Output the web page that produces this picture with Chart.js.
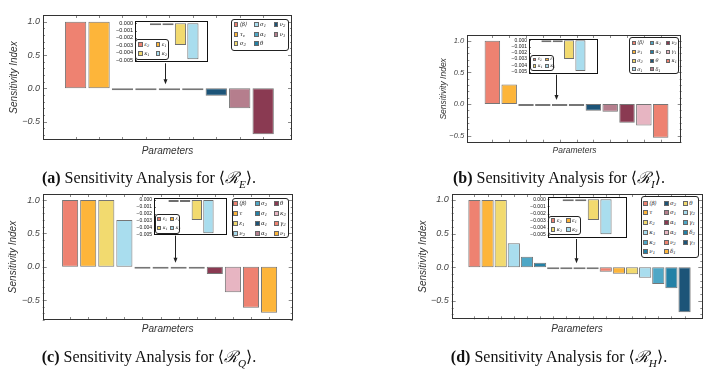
<!DOCTYPE html>
<html>
<head>
<meta charset="utf-8">
<script src="https://cdn.jsdelivr.net/npm/chart.js@4.4.1/dist/chart.umd.min.js"></script>
<style>
body { margin: 0; width: 719px; height: 370px; position: relative; overflow: hidden; background: #fff; }
canvas { position: absolute; left: 0; top: 0; }
.leg { position: absolute; background: #fff; border: 1px solid #222; border-radius: 3px; box-sizing: border-box; z-index: 5; }
.item { position: absolute; display: flex; align-items: center; white-space: nowrap; z-index: 6;
        font-family: "DejaVu Serif", serif; font-style: italic; color: #222; }
.item .sw { display: inline-block; box-sizing: border-box; border: 0.6px solid #666; margin-right: 1.5px; flex: none; }
.item .tx { display: inline-block; line-height: 1; }
.item sub { font-size: 70%; vertical-align: -0.25em; line-height: 0; }
.cap { position: absolute; transform: translate(-50%, -50%); white-space: nowrap;
       font: 16px "Liberation Serif", "DejaVu Serif", serif; color: #111; z-index: 6; }
.cap sub { font-size: 70%; }
</style>
</head>
<body>
<canvas id="ra" width="719" height="370"></canvas>
<canvas id="rb" width="719" height="370"></canvas>
<canvas id="rc" width="719" height="370"></canvas>
<canvas id="rd" width="719" height="370"></canvas>
<canvas id="ia" width="719" height="370"></canvas>
<canvas id="ib" width="719" height="370"></canvas>
<canvas id="ic" width="719" height="370"></canvas>
<canvas id="id" width="719" height="370"></canvas>

<div class="cap" style="left:149px;top:178px"><b>(a)</b> Sensitivity Analysis for ⟨<i>ℛ</i><sub><i>E</i></sub>⟩.</div>
<div class="cap" style="left:559px;top:178px"><b>(b)</b> Sensitivity Analysis for ⟨<i>ℛ</i><sub><i>I</i></sub>⟩.</div>
<div class="cap" style="left:149px;top:357px"><b>(c)</b> Sensitivity Analysis for ⟨<i>ℛ</i><sub><i>Q</i></sub>⟩.</div>
<div class="cap" style="left:559px;top:357px"><b>(d)</b> Sensitivity Analysis for ⟨<i>ℛ</i><sub><i>H</i></sub>⟩.</div>

<script>
const W = 719, H = 370;

// Data

const palette = ["#EE8271", "#FDB53A", "#F2DA6F", "#A9DDEE", "#4EA7C6",
                 "#2381A6", "#1C5478", "#B57E8D", "#8A3A52", "#E7B5C2"];

const mainTicks = [-0.5, 0, 0.5, 1];
const insetTicks = [-0.005, -0.004, -0.003, -0.002, -0.001, 0];
const insetLabels = ["ε_2", "ε_1", "κ_1", "κ_2"];

// (a) R_E
const reLabels = ["⟨β⟩", "τ_v", "σ_2", "σ_1", "α_1", "θ", "ν_2", "ν_1"];
const reValues = [1.0, 1.0, -0.0002, -0.0002, -0.003, -0.0049, -0.11, -0.30, -0.69];
const reInset = [-0.0002, -0.0002, -0.00296, -0.0049];

// (b) R_I
const riLabels = ["⟨β⟩", "ν_1", "σ_2", "σ_1", "α_1", "α_2", "θ", "δ_1", "ν_2", "γ_1", "κ_1"];
const riValues = [1.0, 0.31, -0.0002, -0.0002, -0.003, -0.0049, -0.105, -0.12, -0.295, -0.34, -0.53];
const riInset = [-0.0002, -0.0002, -0.003, -0.0049];

// (c) R_Q
const rqLabels = ["⟨β⟩", "τ", "ε_1", "ν_2", "σ_2", "σ_1", "α_1", "α_2", "θ", "κ_2", "γ_2", "ν_1"];
const rqValues = [1.0, 1.0, 1.0, 0.70, -0.0002, -0.0002, -0.0029, -0.0049, -0.11, -0.385, -0.615, -0.69];
const rqInset = [-0.0002, -0.0002, -0.0029, -0.00485];

// (d) R_H
const rhLabels = ["⟨β⟩", "τ", "ε_2", "κ_1", "κ_2", "ν_1", "σ_2", "σ_1", "α_1", "α_2",
                  "ν_2", "δ_1", "θ", "γ_2", "γ_1", "δ_2", "γ_3"];
const rhValues = [1.0, 1.0, 1.0, 0.357, 0.157, 0.068, -0.0002, -0.0002, -0.003, -0.0049,
                  -0.065, -0.095, -0.104, -0.154, -0.25, -0.31, -0.67];
const rhInset = [-0.0002, -0.0002, -0.0029, -0.0049];

// Plugins

const framePlugin = {
    id: "frame",
    afterDraw(chart) {
        const { ctx, chartArea: a, scales: { x, y } } = chart;
        ctx.save();
        ctx.strokeStyle = "#8a8a8a";
        ctx.lineWidth = 1;
        ctx.beginPath();
        x.ticks.forEach(t => {
            const px = Math.round(x.getPixelForValue(t.value)) + 0.5;
            ctx.moveTo(px, a.bottom); ctx.lineTo(px, a.bottom - 3);
            ctx.moveTo(px, a.top); ctx.lineTo(px, a.top + 3);
        });
        for (let k = Math.ceil(y.min * 10); k <= Math.floor(y.max * 10); k++) {
            const len = k % 5 === 0 ? 4 : 2;
            const py = Math.round(y.getPixelForValue(k / 10)) + 0.5;
            ctx.moveTo(a.left, py); ctx.lineTo(a.left + len, py);
            ctx.moveTo(a.right, py); ctx.lineTo(a.right - len, py);
        }
        ctx.stroke();
        ctx.strokeStyle = "#333";
        ctx.strokeRect(Math.round(a.left) + 0.5, Math.round(a.top) + 0.5,
                       Math.round(a.width) - 1, Math.round(a.height) - 1);
        ctx.restore();
    }
};

const arrowPlugin = {
    id: "arrow",
    afterDraw(chart, args, opts) {
        if (opts.at === undefined) return;
        const { ctx, scales: { x, y } } = chart;
        const px = Math.round(x.getPixelForValue(opts.at)) + 0.5;
        const tip = y.getPixelForValue(0) - 4;
        ctx.save();
        ctx.strokeStyle = "#222";
        ctx.fillStyle = "#222";
        ctx.lineWidth = 1;
        ctx.beginPath();
        ctx.moveTo(px, opts.from);
        ctx.lineTo(px, tip - 4);
        ctx.stroke();
        ctx.beginPath();
        ctx.moveTo(px, tip);
        ctx.lineTo(px - 2, tip - 5);
        ctx.lineTo(px + 2, tip - 5);
        ctx.closePath();
        ctx.fill();
        ctx.restore();
    }
};

const insetPlugin = {
    id: "insetBox",
    beforeDraw(chart) {
        const { ctx, chartArea: a } = chart;
        ctx.save();
        ctx.fillStyle = "#fff";
        ctx.fillRect(a.left, a.top, a.width, a.height);
        ctx.restore();
    },
    afterDraw(chart) {
        const { ctx, chartArea: a, scales: { y } } = chart;
        ctx.save();
        ctx.strokeStyle = "#777";
        ctx.beginPath();
        y.ticks.forEach(t => {
            const py = Math.round(y.getPixelForValue(t.value)) + 0.5;
            ctx.moveTo(a.left, py); ctx.lineTo(a.left + 2, py);
        });
        ctx.stroke();
        ctx.strokeStyle = "#111";
        ctx.lineWidth = 1;
        ctx.strokeRect(Math.round(a.left) + 0.5, Math.round(a.top) + 0.5,
                       Math.round(a.width) - 1, Math.round(a.height) - 1);
        ctx.restore();
    }
};

// Charts

const axisFont = "'Liberation Sans', Arial, sans-serif";
const signed = (v, d) => (v < 0 ? "−" : "") + Math.abs(v).toFixed(d);

function mainChart(id, values, p) {
    const half = p.fs * 0.6;
    return new Chart(document.getElementById(id), {
        type: "bar",
        data: {
            datasets: [{
                data: values.map((v, i) => ({ x: i + 1, y: v })),
                backgroundColor: values.map((v, i) => palette[i % palette.length]),
                borderColor: "#767676",
                borderWidth: 1,
                borderSkipped: false,
                minBarLength: 2,
                barPercentage: p.bar,
                categoryPercentage: 1,
            }]
        },
        options: {
            responsive: false,
            animation: false,
            events: [],
            layout: { padding: { left: p.titleX - half, top: p.t, right: W - p.r, bottom: H - (p.xTitleY + half) } },
            plugins: {
                legend: { display: false },
                tooltip: { enabled: false },
                arrow: { at: p.arrowAt, from: p.arrowFrom },
            },
            scales: {
                x: {
                    type: "linear",
                    min: p.xmin,
                    max: p.xmax,
                    afterBuildTicks: s => { s.ticks = values.map((v, i) => ({ value: i + 1 })); },
                    grid: { display: false, drawTicks: false },
                    border: { display: false },
                    ticks: { display: false },
                    title: { display: true, text: "Parameters", padding: 0, color: "#333",
                             font: { family: axisFont, style: "italic", size: p.fs } },
                    afterFit: s => { s.height = p.xTitleY + half - p.b; },
                },
                y: {
                    min: p.ymin,
                    max: p.ymax,
                    afterBuildTicks: s => { s.ticks = mainTicks.map(v => ({ value: v })); },
                    grid: { display: false, drawTicks: false },
                    border: { display: false },
                    ticks: { padding: 3, color: "#444", autoSkip: false, callback: v => signed(v, 1),
                             font: { family: axisFont, style: "italic", size: p.tfs } },
                    title: { display: true, text: "Sensitivity Index", padding: 0, color: "#333",
                             font: { family: axisFont, style: "italic", size: p.fs } },
                    afterFit: s => { s.width = p.l - (p.titleX - half); },
                }
            }
        },
        plugins: [framePlugin, arrowPlugin]
    });
}

function insetChart(id, values, p) {
    return new Chart(document.getElementById(id), {
        type: "bar",
        data: {
            datasets: [{
                data: values.map((v, i) => ({ x: i + 1, y: v })),
                backgroundColor: values.map((v, i) => palette[i]),
                borderColor: "#6e6e6e",
                borderWidth: 1,
                borderSkipped: false,
                minBarLength: 2,
                barPercentage: p.bar,
                categoryPercentage: 1,
            }]
        },
        options: {
            responsive: false,
            animation: false,
            events: [],
            layout: { padding: { left: p.l - 30, top: p.t, right: W - p.r, bottom: H - p.b } },
            plugins: { legend: { display: false }, tooltip: { enabled: false } },
            scales: {
                x: {
                    type: "linear",
                    display: false,
                    min: p.xmin,
                    max: p.xmax,
                    afterBuildTicks: s => { s.ticks = values.map((v, i) => ({ value: i + 1 })); },
                },
                y: {
                    min: p.ymin,
                    max: p.ymax,
                    afterBuildTicks: s => { s.ticks = insetTicks.map(v => ({ value: v })); },
                    grid: { display: false, drawTicks: false },
                    border: { display: false },
                    ticks: { padding: 2, color: "#111", autoSkip: false, callback: v => signed(v, 3),
                             font: { family: axisFont, size: p.fs } },
                    afterFit: s => { s.width = 30; },
                }
            }
        },
        plugins: [insetPlugin]
    });
}

mainChart("ra", reValues, { l: 43, t: 15, r: 292, b: 140, xmin: 0.2, xmax: 9.64, ymin: -0.775, ymax: 1.1,
    bar: 0.91, fs: 10, tfs: 9, titleX: 14, xTitleY: 151.5, arrowAt: 4.8, arrowFrom: 63.3 });
mainChart("rb", riValues, { l: 467.3, t: 35, r: 681.7, b: 142.7, xmin: 0.09, xmax: 11.67, ymin: -0.61, ymax: 1.09,
    bar: 0.92, fs: 8.5, tfs: 7.6, titleX: 443.3, xTitleY: 151, arrowAt: 4.79, arrowFrom: 74.7 });
mainChart("rc", rqValues, { l: 42.7, t: 194, r: 292.7, b: 320, xmin: 0.06, xmax: 12.73, ymin: -0.8, ymax: 1.09,
    bar: 0.89, fs: 10, tfs: 9, titleX: 13.3, xTitleY: 329, arrowAt: 6.81, arrowFrom: 235.7 });
mainChart("rd", rhValues, { l: 451.7, t: 194, r: 702.3, b: 319.3, xmin: -0.17, xmax: 17.79, ymin: -0.773, ymax: 1.089,
    bar: 0.93, fs: 10, tfs: 9, titleX: 423.3, xTitleY: 329, arrowAt: 8.74, arrowFrom: 239 });

insetChart("ia", reInset, { l: 135, t: 20.7, r: 208.3, b: 61.7, xmin: 0.085, xmax: 4.5,
    ymin: -0.00523, ymax: 0.00035, bar: 0.9, fs: 5.5 });
insetChart("ib", riInset, { l: 529, t: 39, r: 598, b: 74, xmin: 0.225, xmax: 4.79,
    ymin: -0.00537, ymax: 0.0002, bar: 0.89, fs: 5 });
insetChart("ic", rqInset, { l: 154, t: 197.7, r: 226.7, b: 235, xmin: 0.097, xmax: 4.79,
    ymin: -0.0051, ymax: 0.00034, bar: 0.89, fs: 5 });
insetChart("id", rhInset, { l: 547.7, t: 196.7, r: 626.7, b: 237.3, xmin: 0.16, xmax: 4.86,
    ymin: -0.00532, ymax: 0.00036, bar: 0.89, fs: 5 });

// Legends

function legend(labels, box) {
    const div = document.createElement("div");
    div.className = "leg";
    div.style.left = box.l + "px";
    div.style.top = box.t + "px";
    div.style.width = box.w + "px";
    div.style.height = box.h + "px";
    document.body.appendChild(div);
    const nr = box.rows.length, nc = box.cols.length;
    labels.forEach((lab, i) => {
        const r = box.rowMajor ? Math.floor(i / nc) : i % nr;
        const c = box.rowMajor ? i % nc : Math.floor(i / nr);
        const item = document.createElement("div");
        item.className = "item";
        item.style.left = box.cols[c] + "px";
        item.style.top = (box.rows[r] - box.sw / 2) + "px";
        item.style.height = box.sw + "px";
        item.style.fontSize = box.fs + "px";
        item.innerHTML = `<span class="sw" style="width:${box.sw}px;height:${box.sw}px;background:${palette[i % palette.length]}"></span>`
            + `<span class="tx">${lab.replace(/_(\w)/g, "<sub>$1</sub>")}</span>`;
        document.body.appendChild(item);
    });
}

legend(reLabels, { l: 231, t: 19, w: 57.7, h: 31.7, cols: [233.7, 254, 273.7], rows: [24.3, 34.3, 43.3], sw: 4.5, fs: 5.5 });
legend(riLabels, { l: 629, t: 37.3, w: 50, h: 36.7, cols: [631.7, 650, 666], rows: [42.7, 51.7, 60.7, 69], sw: 4, fs: 5 });
legend(rqLabels, { l: 231.7, t: 198.3, w: 57.6, h: 40, cols: [233.3, 255, 274], rows: [203.3, 213.3, 223.3, 233.3], sw: 4.5, fs: 5.5 });
legend(rhLabels, { l: 640.7, t: 196, w: 58.6, h: 62.3, cols: [643.3, 664, 683.3],
    rows: [203.3, 212.7, 222.7, 232.3, 242.3, 251.7], sw: 4.5, fs: 5.5 });

legend(insetLabels, { l: 135, t: 39.3, w: 34.3, h: 20.7, cols: [138.3, 155.7], rows: [44.3, 53.3], sw: 4.5, fs: 5, rowMajor: true });
legend(insetLabels, { l: 530, t: 55, w: 24, h: 15.7, cols: [532.7, 545.3], rows: [59.5, 66.2], sw: 3.5, fs: 4.5, rowMajor: true });
legend(insetLabels, { l: 155, t: 214, w: 25, h: 20.3, cols: [157.3, 170], rows: [219, 228], sw: 4, fs: 4.5, rowMajor: true });
legend(insetLabels, { l: 548.3, t: 215.7, w: 32.4, h: 19.3, cols: [550.7, 566], rows: [220.5, 229.5], sw: 4.5, fs: 5, rowMajor: true });
</script>
</body>
</html>
